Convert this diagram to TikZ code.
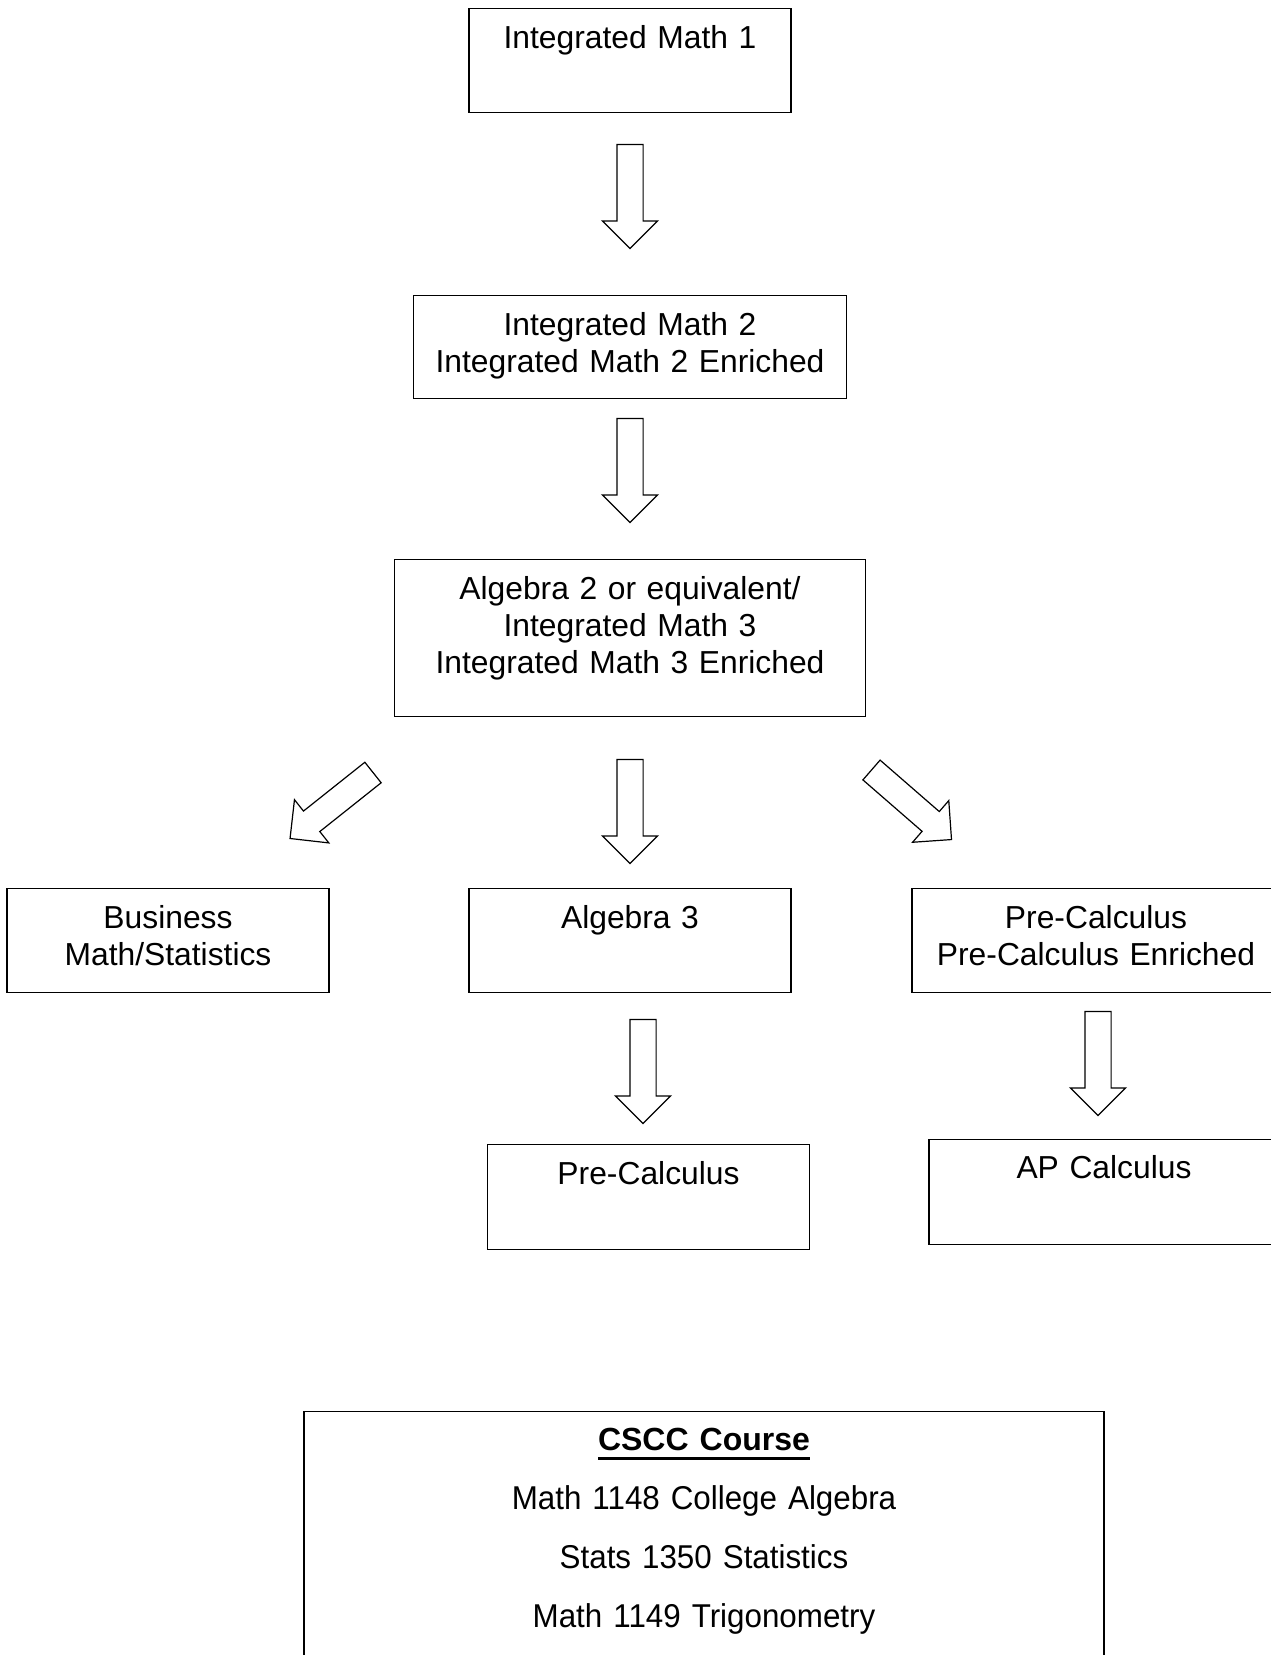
\documentclass[tikz,border=0pt]{standalone}
\usepackage{fontspec}
\setmainfont{Liberation Sans}
\newfontfamily\narrowsans[FakeStretch=0.95, WordSpace=2]{Liberation Sans}
\usetikzlibrary{positioning, shapes.arrows}
\newcommand{\coursehead}[1]{\leavevmode\vtop{\hbox{#1}\kern6pt\hrule height 3pt}}
\tikzset{
	course/.style={
		rectangle, draw=black, line width=1.6pt,
		inner sep=0pt, outer sep=0pt, align=center,
		font=\fontsize{31.8}{37}\selectfont,
		text height=40pt, text depth=64pt
	},
	blockarrow/.style={
		single arrow, draw=black, line width=1.2pt,
		minimum height=104pt, minimum width=54pt,
		single arrow head extend=14.5pt, single arrow head indent=0pt,
		inner xsep=0pt, inner ysep=12.5pt, outer sep=0pt
	}
}

\begin{document}
\begin{tikzpicture}[x=1pt, y=-1pt]
	\useasboundingbox (0,0) rectangle (1271,1655);

	\node [course, text width=322pt, anchor=north] (im1) at (630,8.5) {Integrated Math 1};
	\node [course, text width=433pt, text depth=63pt, below=183pt of im1] (im2) {Integrated Math 2\\Integrated Math 2 Enriched};
	\node [course, text width=471pt, text depth=117pt, below=161pt of im2] (alg2) {Algebra 2 or equivalent/\\Integrated Math 3\\Integrated Math 3 Enriched};

	\node [course, text width=322pt, below=172pt of alg2] (alg3) {Algebra 3};
	\node [course, text width=322pt, left=140pt of alg3] (bus) {Business\\Math/Statistics};
	\node [course, text width=368pt, right=121pt of alg3] (prec) {Pre-Calculus\\Pre-Calculus Enriched};

	\node [course, text width=322pt, text depth=65pt, below=152pt of alg3, xshift=18.5pt] (pre) {Pre-Calculus};
	\node [course, text width=350pt, text height=39pt, text depth=66pt, below=147pt of prec, xshift=8pt] (apc) {AP Calculus};

	\node [course, text width=800pt, text height=39pt, text depth=221pt, below=162pt of pre, xshift=55.5pt, font=\narrowsans\fontsize{33}{59}\selectfont] (cscc) {{\rmfamily\bfseries\fontsize{32}{59}\selectfont\coursehead{CSCC Course}}\\Math 1148 College Algebra\\Stats 1350 Statistics\\Math 1149 Trigonometry};

	\node [blockarrow, rotate=-90, below=32pt of im1, anchor=tail] (d1) {};
	\node [blockarrow, rotate=-90, below=20pt of im2, anchor=tail] (d2) {};
	\node [blockarrow, rotate=-90, below=43pt of alg2, anchor=tail] (d3) {};
	\node [blockarrow, minimum height=106pt, rotate=218.5, anchor=tail] (dl) at ([xshift=-21.5pt, yshift=-56pt]alg2.south west) {};
	\node [blockarrow, minimum height=106pt, rotate=-41, anchor=tail] (dr) at ([xshift=6pt, yshift=-53.5pt]alg2.south east) {};
	\node [blockarrow, xshift=13pt, rotate=-90, below=27pt of alg3, anchor=tail] (d4) {};
	\node [blockarrow, xshift=2pt, rotate=-90, below=19pt of prec, anchor=tail] (d5) {};
\end{tikzpicture}
\end{document}
